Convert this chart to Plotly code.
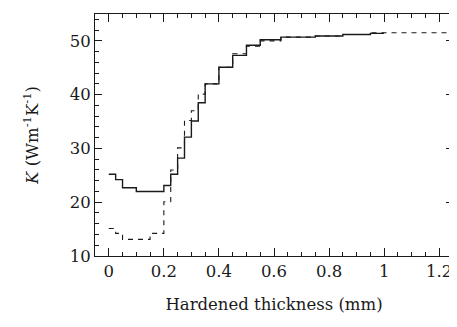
import plotly.graph_objects as go

# Solid curve (step positions in mm, K values)
solid_x = [0, 0.025, 0.05, 0.1, 0.2, 0.225, 0.25, 0.275, 0.3, 0.325, 0.35, 0.4, 0.45, 0.5, 0.55, 0.625, 0.75, 0.85, 0.95, 1.0]
solid_k = [25.2, 24.2, 22.7, 22.0, 23.1, 25.2, 28.2, 32.1, 35.1, 38.5, 42.0, 45.1, 47.3, 49.2, 50.2, 50.7, 50.9, 51.2, 51.4, 51.4]

# Dashed curve
dash_x = [0, 0.025, 0.05, 0.15, 0.2, 0.225, 0.25, 0.275, 0.3, 0.325, 0.35, 0.4, 0.45, 0.5, 0.55, 0.625, 0.75, 0.85, 0.95, 1.25]
dash_k = [15.1, 14.2, 13.1, 14.2, 20.1, 26.0, 30.1, 35.2, 37.0, 40.1, 42.0, 45.1, 47.6, 49.0, 50.0, 50.7, 50.9, 51.2, 51.5, 51.5]

x_ticks = [0, 0.2, 0.4, 0.6, 0.8, 1.0, 1.2]
x_tick_text = ["0", "0.2", "0.4", "0.6", "0.8", "1", "1.2"]
y_ticks = [10, 20, 30, 40, 50]

FONT = "DejaVu Serif"
INK = "#1a1a1a"

fig = go.Figure()
fig.add_trace(go.Scatter(x=dash_x, y=dash_k, mode="lines", line_shape="hv",
                         line=dict(color=INK, width=1.1, dash="5px,5px"), showlegend=False))
fig.add_trace(go.Scatter(x=solid_x, y=solid_k, mode="lines", line_shape="hv",
                         line=dict(color=INK, width=1.4), showlegend=False))

fig.update_layout(
    template="none",
    width=449, height=319, autosize=False,
    margin=dict(l=87, r=4, t=6, b=71),
    paper_bgcolor="white", plot_bgcolor="white",
    font=dict(family=FONT, size=16.5, color=INK),
)
fig.update_xaxes(
    range=[-0.05, 1.25], tickvals=x_ticks, ticktext=x_tick_text,
    ticks="inside", ticklen=8, tickwidth=1, tickcolor=INK,
    minor=dict(dtick=0.05, tick0=0, ticks="inside", ticklen=4, tickwidth=1, tickcolor=INK),
    showline=True, linecolor=INK, linewidth=1, mirror="allticks",
    showgrid=False, zeroline=False,
    title=dict(text="Hardened thickness (mm)", standoff=18, font=dict(size=16.5, family=FONT)),
    tickfont=dict(family=FONT, size=16.5),
)
fig.update_yaxes(
    range=[10, 55], tickvals=y_ticks,
    ticks="inside", ticklen=7, tickwidth=1, tickcolor=INK,
    minor=dict(dtick=2, tick0=10, ticks="inside", ticklen=4, tickwidth=1, tickcolor=INK),
    showline=True, linecolor=INK, linewidth=1, mirror="allticks",
    showgrid=False, zeroline=False,
    title=dict(text="<i>K</i> (Wm<sup>-1</sup>K<sup>-1</sup>)", standoff=26, font=dict(size=16.5, family=FONT)),
    tickfont=dict(family=FONT, size=16.5),
)

fig.write_html("out.html")
